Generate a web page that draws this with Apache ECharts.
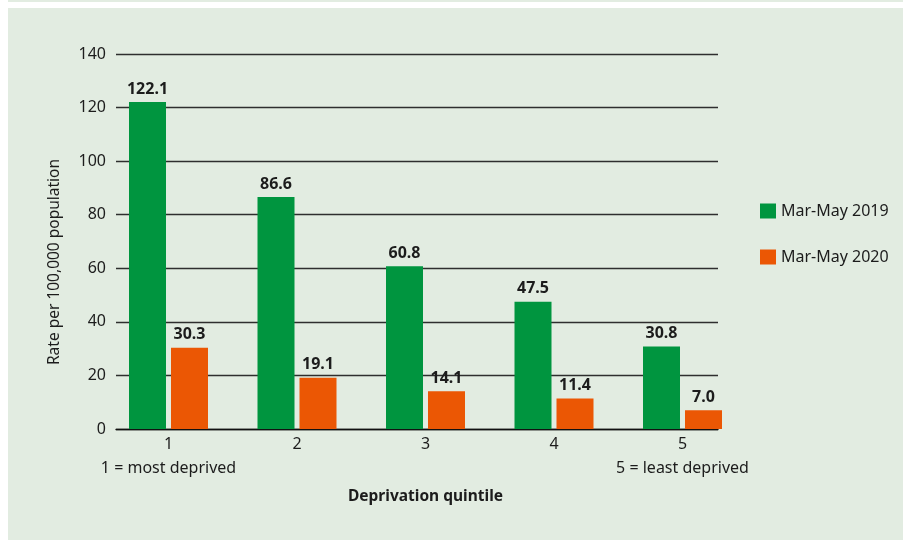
<!DOCTYPE html>
<html>
<head>
<meta charset="utf-8">
<script src="https://cdn.jsdelivr.net/npm/echarts@6/dist/echarts.min.js"></script>
<style>
  html, body { margin: 0; padding: 0; background: #ffffff; }
  #chart { width: 903px; height: 540px; }
</style>
</head>
<body>
<div id="chart"></div>
<script>
// Deprivation quintiles, 1 = most deprived, 5 = least deprived
const quintiles = ['1', '2', '3', '4', '5'];
const seriesNames = ['Mar-May 2019', 'Mar-May 2020'];
// Rate per 100,000 population
const rate2019 = [122.1, 86.6, 60.8, 47.5, 30.8];
const rate2020 = [30.3, 19.1, 14.1, 11.4, 7.0];
// Value axis range and tick step
const yMin = 0;
const yMax = 140;
const yStep = 20;
// Notes under the first and last quintile
const quintileNotes = { '1': '1 = most deprived', '5': '5 = least deprived' };

const FONT = '"Noto Sans", "Open Sans", sans-serif';
const TEXT = '#1c1c1c';
const PANEL = '#e2ece1';

const chart = echarts.init(document.getElementById('chart'), null, { renderer: 'canvas' });

const barLabel = {
  show: true,
  position: 'top',
  distance: 5,
  fontFamily: FONT,
  fontSize: 16,
  fontWeight: 'bold',
  color: TEXT,
  formatter: p => Number(p.value).toFixed(1)
};

chart.setOption({
  backgroundColor: '#ffffff',
  animation: false,
  graphic: [
    { type: 'rect', silent: true, z: -10, shape: { x: 8, y: 0, width: 895, height: 2 }, style: { fill: PANEL } },
    { type: 'rect', silent: true, z: -10, shape: { x: 8, y: 8, width: 895, height: 532 }, style: { fill: PANEL } },
    {
      type: 'text',
      silent: true,
      x: 55,
      y: 262,
      rotation: Math.PI / 2,
      style: {
        text: 'Rate per 100,000 population',
        fontFamily: FONT,
        fontSize: 15.5,
        fill: TEXT,
        align: 'center',
        verticalAlign: 'middle'
      }
    }
  ],
  legend: {
    orient: 'vertical',
    left: 760,
    top: 203,
    padding: 0,
    itemWidth: 16,
    itemHeight: 15,
    itemGap: 30,
    icon: 'rect',
    data: seriesNames,
    textStyle: { fontFamily: FONT, fontSize: 16, color: TEXT, padding: [0, 0, 0, 0] }
  },
  grid: [
    // frame for the value gridlines and baseline
    { left: 116, width: 602, top: 54, bottom: 111 },
    // frame for the bars and quintile labels
    { left: 104.25, width: 642.5, top: 54, bottom: 111 }
  ],
  xAxis: [
    {
      gridIndex: 0,
      type: 'value',
      min: 0,
      max: 1,
      axisLine: { show: true, onZero: false, lineStyle: { color: '#111111', width: 1.3 } },
      axisTick: { show: false },
      axisLabel: { show: false },
      splitLine: { show: false }
    },
    {
      gridIndex: 1,
      type: 'category',
      data: quintiles,
      axisLine: { show: false },
      axisTick: { show: false },
      axisLabel: {
        interval: 0,
        margin: 3,
        fontFamily: FONT,
        fontSize: 16,
        lineHeight: 24,
        color: TEXT,
        formatter: v => quintileNotes[v] ? v + '\n' + quintileNotes[v] : v
      },
      name: 'Deprivation quintile',
      nameLocation: 'middle',
      nameGap: 60,
      nameTextStyle: { fontFamily: FONT, fontSize: 15.5, fontWeight: 'bold', color: TEXT }
    }
  ],
  yAxis: [
    {
      gridIndex: 0,
      type: 'value',
      min: yMin,
      max: yMax,
      interval: yStep,
      axisLine: { show: false },
      axisTick: { show: false },
      axisLabel: { margin: 10, fontFamily: FONT, fontSize: 16, color: TEXT },
      splitLine: { show: true, lineStyle: { color: '#2e2e2e', width: 1.3 } }
    },
    {
      gridIndex: 1,
      type: 'value',
      min: yMin,
      max: yMax,
      interval: yStep,
      show: false,
      splitLine: { show: false }
    }
  ],
  series: [
    {
      name: seriesNames[0],
      type: 'bar',
      xAxisIndex: 1,
      yAxisIndex: 1,
      data: rate2019,
      barWidth: 37,
      barGap: '13.5%',
      itemStyle: { color: '#00953f' },
      label: barLabel
    },
    {
      name: seriesNames[1],
      type: 'bar',
      xAxisIndex: 1,
      yAxisIndex: 1,
      data: rate2020,
      barWidth: 37,
      barGap: '13.5%',
      itemStyle: { color: '#eb5704' },
      label: barLabel
    }
  ]
});
</script>
</body>
</html>
